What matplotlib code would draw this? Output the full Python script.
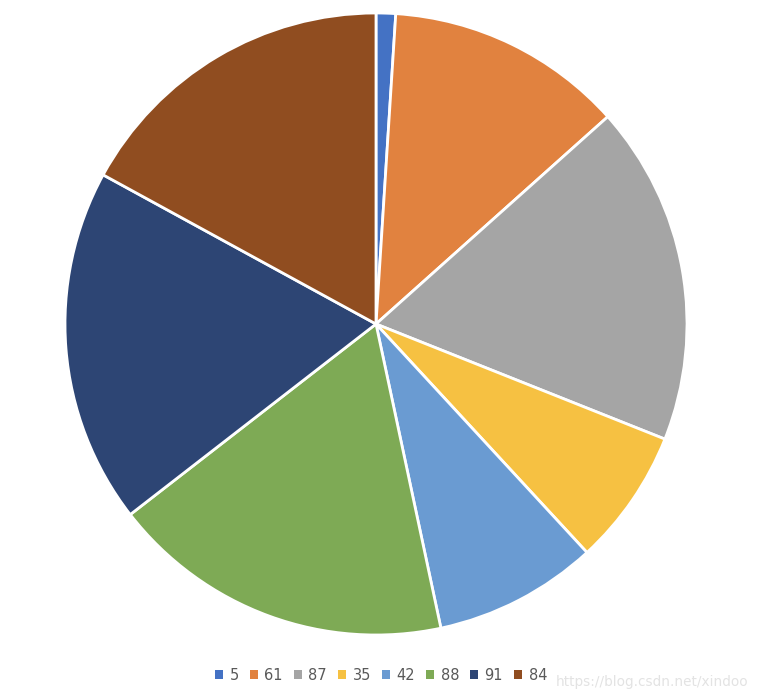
import matplotlib.pyplot as plt
from matplotlib.patches import Patch

labels = ["5", "61", "87", "35", "42", "88", "91", "84"]
values = [5, 61, 87, 35, 42, 88, 91, 84]
colors = ["#4472C4", "#E1823F", "#A5A5A5", "#F6C142",
          "#6A9BD2", "#7EAA55", "#2D4574", "#904D20"]

fig = plt.figure(figsize=(7.58, 7.0), dpi=100)
ax = fig.add_axes([0, 0, 1, 1])
ax.set_xlim(0, 758)
ax.set_ylim(0, 700)
ax.set_aspect("equal")
ax.axis("off")

ax.pie(values, colors=colors, startangle=90, counterclock=False,
       center=(376, 376), radius=311,
       wedgeprops=dict(edgecolor="white", linewidth=2))
ax.set_xlim(0, 758)
ax.set_ylim(0, 700)

handles = [Patch(facecolor=c, edgecolor="none") for c in colors]
fig.legend(handles, labels, loc="center", bbox_to_anchor=(381 / 758, 1 - 675 / 700),
           ncol=len(labels), frameon=False, fontsize=10.5, labelcolor="#595959",
           handlelength=0.55, handleheight=0.55, handletextpad=0.45, columnspacing=0.75)

fig.text(652 / 758, 1 - 682 / 700, "https://blog.csdn.net/xindoo",
         ha="center", va="center", fontsize=9.8, color="#E3E3E3")

fig.savefig("out.png", dpi=100)
